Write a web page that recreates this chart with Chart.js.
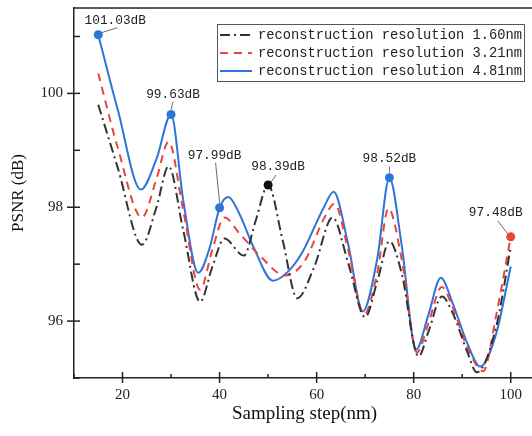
<!DOCTYPE html>
<html>
<head>
<meta charset="utf-8">
<script src="https://cdn.jsdelivr.net/npm/chart.js@4.4.1/dist/chart.umd.min.js"></script>
<style>
  html, body { margin: 0; padding: 0; overflow: hidden; background: #fff; }
  canvas { display: block; }
</style>
</head>
<body>
<canvas id="psnrChart" width="540" height="436"></canvas>
<script>
// sampling step (nm) -> PSNR (dB) for each resolution
const step160 = [15, 19, 24, 27, 29.5, 32.5, 36, 38.5, 41, 45, 47.5, 50, 53, 56, 59.5, 63.3, 66.5, 70, 72.5, 75, 77.5, 81, 83, 85.8, 88, 91, 93, 97, 100];
const psnr160 = [99.8, 98.7, 97.34, 98.0, 98.72, 97.6, 96.34, 96.95, 97.45, 97.15, 97.78, 98.39, 97.42, 96.4, 96.95, 97.82, 97.02, 96.07, 96.7, 97.4, 96.85, 95.38, 95.8, 96.43, 96.15, 95.47, 95.1, 95.9, 97.3];

const step321 = [15, 19, 24, 27, 29.5, 32.5, 36, 38.5, 41, 44, 48.5, 53.5, 57.5, 61.5, 63.7, 66.5, 69.8, 72.5, 74.8, 77.5, 80.7, 83, 85.8, 88, 91, 94.3, 97, 100];
const psnr321 = [100.35, 99.05, 97.82, 98.5, 99.15, 97.95, 96.55, 97.25, 97.82, 97.55, 97.13, 96.8, 97.05, 97.8, 98.06, 97.25, 96.12, 96.85, 97.98, 97.1, 95.45, 95.95, 96.6, 96.25, 95.55, 95.12, 96.1, 97.48];

const step481 = [15, 19, 23.8, 27, 30, 32.5, 35.6, 38, 40, 41.8, 44, 47, 51, 54, 57, 61.5, 63.5, 66.5, 69.5, 72.5, 75, 77.5, 80.5, 83, 85.6, 88, 91, 93.7, 97, 100];
const psnr481 = [101.03, 99.72, 98.31, 98.85, 99.63, 98.13, 96.85, 97.3, 97.99, 98.18, 97.9, 97.3, 96.71, 96.86, 97.2, 98.0, 98.27, 97.35, 96.17, 97.1, 98.52, 97.35, 95.5, 96.1, 96.76, 96.32, 95.62, 95.2, 95.78, 96.96];

const seriesLabels = [
  "reconstruction resolution 1.60nm",
  "reconstruction resolution 3.21nm",
  "reconstruction resolution 4.81nm"
];

// marked points: which series, at which step, and the text shown
const markSeries = [2, 2, 2, 0, 2, 1];
const markStep = [15, 30, 40, 50, 75, 100];
const markText = ["101.03dB", "99.63dB", "97.99dB", "98.39dB", "98.52dB", "97.48dB"];

// where each callout sits relative to its dot (text centre, leader start, leader end)
const calloutLayout = [
  { tx: 17, ty: -14, x0: 3, y0: -2, x1: 19, y1: -7 },
  { tx: 2, ty: -20, x0: 0, y0: -5, x1: 2, y1: -13 },
  { tx: -5, ty: -52, x0: 0, y0: -5, x1: -4, y1: -45 },
  { tx: 10, ty: -18, x0: 3, y0: -3, x1: 8, y1: -10 },
  { tx: 0, ty: -19, x0: 0, y0: -5, x1: 0, y1: -11 },
  { tx: -15, ty: -24, x0: -3, y0: -3, x1: -13, y1: -16 }
];

const colors = ["#333333", "#e8453f", "#2f74d8"];
const dashes = [[10, 4, 2, 4], [8, 6], []];

function toPoints(xs, ys) {
  return xs.map((x, i) => ({ x, y: ys[i] }));
}

function isMarked(series, x) {
  return markSeries.some((s, i) => s === series && markStep[i] === x);
}

const serif = "'Liberation Serif', 'Times New Roman', serif";
const mono = "'Liberation Mono', 'Courier New', monospace";

// top frame line plus tick marks (minor ones inward, major ones crossing)
const frameAndTicks = {
  id: "frameAndTicks",
  afterDatasetsDraw(chart) {
    const { ctx, chartArea: a, scales: { x, y } } = chart;
    ctx.save();
    ctx.strokeStyle = "#222";
    ctx.lineWidth = 1.5;
    ctx.beginPath();
    ctx.moveTo(a.left, a.top);
    ctx.lineTo(a.right, a.top);
    ctx.stroke();

    x.ticks.forEach(t => {
      const px = x.getPixelForValue(t.value);
      const major = t.value % 20 === 0;
      ctx.beginPath();
      ctx.moveTo(px, a.bottom + (major ? 5 : 0));
      ctx.lineTo(px, a.bottom - (major ? 6 : 4));
      ctx.stroke();
    });
    y.ticks.forEach(t => {
      const py = y.getPixelForValue(t.value);
      const major = t.value % 2 === 0;
      ctx.beginPath();
      ctx.moveTo(a.left - (major ? 7 : 0), py);
      ctx.lineTo(a.left + 6, py);
      ctx.stroke();
    });
    ctx.restore();
  }
};

// value callouts with leader lines
const callouts = {
  id: "callouts",
  afterDatasetsDraw(chart) {
    const { ctx } = chart;
    ctx.save();
    ctx.font = "12.8px " + mono;
    ctx.textAlign = "center";
    ctx.textBaseline = "middle";
    markSeries.forEach((s, i) => {
      const meta = chart.getDatasetMeta(s);
      const idx = chart.data.datasets[s].data.findIndex(p => p.x === markStep[i]);
      const el = meta.data[idx];
      const L = calloutLayout[i];
      ctx.strokeStyle = "#444";
      ctx.lineWidth = 0.8;
      ctx.beginPath();
      ctx.moveTo(el.x + L.x0, el.y + L.y0);
      ctx.lineTo(el.x + L.x1, el.y + L.y1);
      ctx.stroke();
      ctx.fillStyle = "#222";
      ctx.fillText(markText[i], el.x + L.tx, el.y + L.ty);
    });
    ctx.restore();
  }
};

// boxed legend inside the plot, top right
const boxLegend = {
  id: "boxLegend",
  afterDraw(chart) {
    const { ctx } = chart;
    const left = 217, top = 24, w = 307, h = 57;
    ctx.save();
    ctx.fillStyle = "#fff";
    ctx.fillRect(left, top, w, h);
    ctx.strokeStyle = "#555";
    ctx.lineWidth = 1;
    ctx.strokeRect(left + 0.5, top + 0.5, w, h);
    ctx.font = "13.75px " + mono;
    ctx.textBaseline = "middle";
    ctx.textAlign = "left";
    chart.data.datasets.forEach((ds, i) => {
      const cy = top + 11 + i * 18;
      ctx.strokeStyle = ds.borderColor;
      ctx.lineWidth = 2;
      ctx.setLineDash(ds.borderDash);
      ctx.beginPath();
      ctx.moveTo(left + 3, cy);
      ctx.lineTo(left + 35, cy);
      ctx.stroke();
      ctx.setLineDash([]);
      ctx.fillStyle = "#222";
      ctx.fillText(ds.label, left + 41, cy);
    });
    ctx.restore();
  }
};

const ctx = document.getElementById("psnrChart").getContext("2d");

const datasets = [
  toPoints(step160, psnr160),
  toPoints(step321, psnr321),
  toPoints(step481, psnr481)
].map((data, i) => ({
  label: seriesLabels[i],
  data,
  borderColor: colors[i],
  backgroundColor: i === 0 ? "#111" : colors[i],
  borderWidth: 2,
  borderDash: dashes[i],
  cubicInterpolationMode: "monotone",
  pointRadius: c => (isMarked(i, c.raw && c.raw.x) ? 4.5 : 0),
  pointBorderWidth: 0,
  pointHoverRadius: 0,
  fill: false
}));

new Chart(ctx, {
  type: "line",
  data: { datasets },
  options: {
    responsive: false,
    animation: false,
    layout: { padding: { top: 8, right: 5, left: 0, bottom: 0 } },
    plugins: {
      legend: { display: false },
      tooltip: { enabled: false }
    },
    scales: {
      x: {
        type: "linear",
        min: 10,
        max: 105,
        afterFit: s => { s.height = 58; },
        grid: { display: false, drawTicks: false },
        border: { display: true, color: "#222", width: 1.5 },
        ticks: {
          stepSize: 10,
          includeBounds: false,
          autoSkip: false,
          maxRotation: 0,
          padding: 8,
          color: "#222",
          font: { family: serif, size: 15 },
          callback: v => (v % 20 === 0 ? v : "")
        },
        title: {
          display: true,
          text: "Sampling step(nm)",
          color: "#111",
          font: { family: serif, size: 19 },
          padding: { top: 4, bottom: 11 }
        }
      },
      y: {
        min: 95,
        max: 101.5,
        afterFit: s => { s.width = 74; s.paddingTop = 0; s.paddingBottom = 0; },
        grid: { display: false, drawTicks: false },
        border: { display: true, color: "#222", width: 1.5 },
        ticks: {
          stepSize: 1,
          includeBounds: false,
          autoSkip: false,
          padding: 11,
          color: "#222",
          font: { family: serif, size: 15 },
          callback: v => (v % 2 === 0 ? v : "")
        },
        title: {
          display: true,
          text: "PSNR (dB)",
          color: "#111",
          font: { family: serif, size: 17 },
          padding: { bottom: 0, top: 8 }
        }
      }
    }
  },
  plugins: [frameAndTicks, callouts, boxLegend]
});
</script>
</body>
</html>
